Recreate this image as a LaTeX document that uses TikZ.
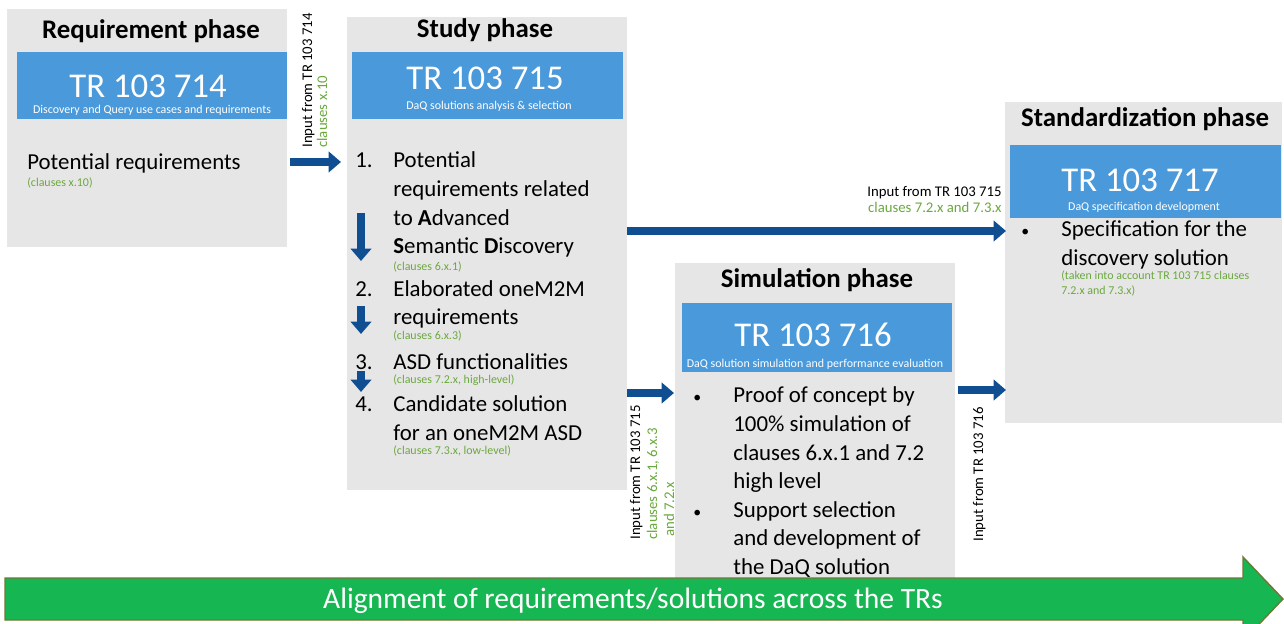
\documentclass[tikz,border=0pt]{standalone}
\usepackage{fontspec}
\setmainfont{Carlito}
\usetikzlibrary{arrows.meta}
\definecolor{boxgray}{RGB}{231,230,230}
\definecolor{bandblue}{RGB}{74,153,218}
\definecolor{flowblue}{RGB}{16,78,146}
\definecolor{clausegreen}{RGB}{106,168,62}
\definecolor{trackgreen}{RGB}{22,182,82}
\definecolor{trackedge}{RGB}{112,120,52}
\begin{document}
\begin{tikzpicture}[x=0.02cm, y=-0.02cm,
		title/.style={font=\fontsize{15.3}{18}\selectfont\bfseries, anchor=base},
		trnum/.style={font=\fontsize{19.8}{22}\selectfont, text=white, anchor=base},
		trsub/.style={font=\fontsize{6.8}{8}\selectfont, text=white, anchor=base},
		body/.style={font=\fontsize{13}{15}\selectfont, anchor=base west, inner sep=0pt},
		dot/.style={font=\fontsize{9}{10}\selectfont, anchor=base west, inner sep=0pt},
		clause/.style={font=\fontsize{6.8}{8}\selectfont, text=clausegreen, anchor=base west, inner sep=0pt},
		input/.style={font=\fontsize{8.4}{10}\selectfont, inner sep=0pt},
		flow/.style={draw=flowblue, line width=5pt, -{Triangle[length=7pt,width=11.5pt]}}]
		\useasboundingbox (0,0) rectangle (1284,624);
		% phase boxes and their blue bands
		\draw [draw=none, fill=boxgray] (7,9) rectangle (287,247);
		\draw [draw=none, fill=boxgray] (347,17) rectangle (627,490);
		\draw [draw=none, fill=boxgray] (675,263) rectangle (955,590);
		\draw [draw=none, fill=boxgray] (1005,102) rectangle (1282,423);
		\draw [draw=none, fill=bandblue] (17,52) rectangle (287,119);
		\draw [draw=none, fill=bandblue] (352,52) rectangle (623,119);
		\draw [draw=none, fill=bandblue] (682,303) rectangle (952,372);
		\draw [draw=none, fill=bandblue] (1010,145) rectangle (1281,218);

		% Requirement phase
		\node [title] (reqtitle) at (151,39) {Requirement phase};
		\node [trnum] (reqtr) at (148,98) {TR 103 714};
		\node [trsub] (reqsub) at (152,114) {Discovery and Query use cases and requirements};
		\node [body] (reqtext) at (27,170) {Potential requirements};
		\node [clause] (reqcl) at (27,187) {(clauses x.10)};

		% Study phase
		\node [title] (studytitle) at (485,38) {Study phase};
		\node [trnum] (studytr) at (485,90) {TR 103 715};
		\node [trsub] (studysub) at (489,110) {DaQ solutions analysis \& selection};
		\node [body] (n1) at (355,168) {1.};
		\node [body] (s1a) at (393,168) {Potential};
		\node [body] (s1b) at (393,197) {requirements related};
		\node [body] (s1c) at (393,226) {to \textbf{A}dvanced};
		\node [body] (s1d) at (393,254) {\textbf{S}emantic \textbf{D}iscovery};
		\node [clause] (s1cl) at (393,271) {(clauses 6.x.1)};
		\node [body] (n2) at (355,297) {2.};
		\node [body] (s2a) at (393,297) {Elaborated oneM2M};
		\node [body] (s2b) at (393,325) {requirements};
		\node [clause] (s2cl) at (393,340) {(clauses 6.x.3)};
		\node [body] (n3) at (355,370) {3.};
		\node [body] (s3a) at (393,370) {ASD functionalities};
		\node [clause] (s3cl) at (393,384) {(clauses 7.2.x, high-level)};
		\node [body] (n4) at (355,412) {4.};
		\node [body] (s4a) at (393,412) {Candidate solution};
		\node [body] (s4b) at (393,440) {for an oneM2M ASD};
		\node [clause] (s4cl) at (393,455) {(clauses 7.3.x, low-level)};

		% Simulation phase
		\node [title] (simtitle) at (817,288) {Simulation phase};
		\node [trnum] (simtr) at (813,347) {TR 103 716};
		\node [trsub] (simsub) at (815,368) {DaQ solution simulation and performance evaluation};
		\node [dot] (b1) at (693,403) {•};
		\node [body] (m1a) at (733,403) {Proof of concept by};
		\node [body] (m1b) at (733,432) {100\% simulation of};
		\node [body] (m1c) at (733,460) {clauses 6.x.1 and 7.2};
		\node [body] (m1d) at (733,488) {high level};
		\node [dot] (b2) at (693,517) {•};
		\node [body] (m2a) at (733,517) {Support selection};
		\node [body] (m2b) at (733,545) {and development of};
		\node [body] (m2c) at (733,574) {the DaQ solution};

		% Standardization phase
		\node [title] (stdtitle) at (1145,127) {Standardization phase};
		\node [trnum] (stdtr) at (1140,192) {TR 103 717};
		\node [trsub] (stdsub) at (1144,211) {DaQ specification development};
		\node [dot] (b3) at (1021,237) {•};
		\node [body] (d1a) at (1061,237) {Specification for the};
		\node [body] (d1b) at (1061,266) {discovery solution};
		\node [clause] (d1cl) at (1061,280) {(taken into account TR 103 715 clauses};
		\node [clause] (d1cl2) at (1061,295) {7.2.x and 7.3.x)};

		% inputs handed on between the phases
		\node [input, rotate=90, anchor=base west] (in714) at (312,148) {Input from TR 103 714};
		\node [input, rotate=90, anchor=base west, text=clausegreen] (in714cl) at (327,148) {clauses x.10};
		\node [input, anchor=base east] (in715) at (1002,197) {Input from TR 103 715};
		\node [input, anchor=base east, text=clausegreen] (in715cl) at (1002,213) {clauses 7.2.x and 7.3.x};
		\node [input, rotate=90, anchor=base west] (in715s) at (640,540) {Input from TR 103 715};
		\node [input, rotate=90, anchor=base west, text=clausegreen] (in715scl) at (657,540) {clauses 6.x.1, 6.x.3};
		\node [input, rotate=90, anchor=base west, text=clausegreen] (in715scl2) at (674,537) {and 7.2.x};
		\node [input, rotate=90, anchor=base west] (in716) at (983,542) {Input from TR 103 716};

		\coordinate (reqout) at (290,162);
		\coordinate (studyin) at (341,162);
		\coordinate (studyout) at (627,231);
		\coordinate (stdin) at (1006,231);
		\coordinate (studyout2) at (627,393);
		\coordinate (simin) at (674,393);
		\coordinate (simout) at (958,390);
		\coordinate (stdin2) at (1006,390);
		\draw [flow] (reqout) -- (studyin);
		\draw [flow] (studyout) -- (stdin);
		\draw [flow] (studyout2) -- (simin);
		\draw [flow] (simout) -- (stdin2);
		% steps inside the study phase
		\coordinate (d1s) at (361,213);
		\coordinate (d1e) at (361,261);
		\coordinate (d2s) at (361,306);
		\coordinate (d2e) at (361,334);
		\coordinate (d3s) at (361,371);
		\coordinate (d3e) at (361,392);
		\draw [flow] (d1s) -- (d1e);
		\draw [flow] (d2s) -- (d2e);
		\draw [flow] (d3s) -- (d3e);

		% alignment arrow along the bottom
		\draw [draw=trackedge, line width=0.8pt, fill=trackgreen]
			(5,578) -- (1243,578) -- (1243,557) -- (1283,599) -- (1243,641) -- (1243,620) -- (5,620) -- cycle;
		\node [font=\fontsize{16.8}{20}\selectfont, text=white, anchor=base] (align) at (633,608)
			{Alignment of requirements/solutions across the TRs};
	\end{tikzpicture}
\end{document}
